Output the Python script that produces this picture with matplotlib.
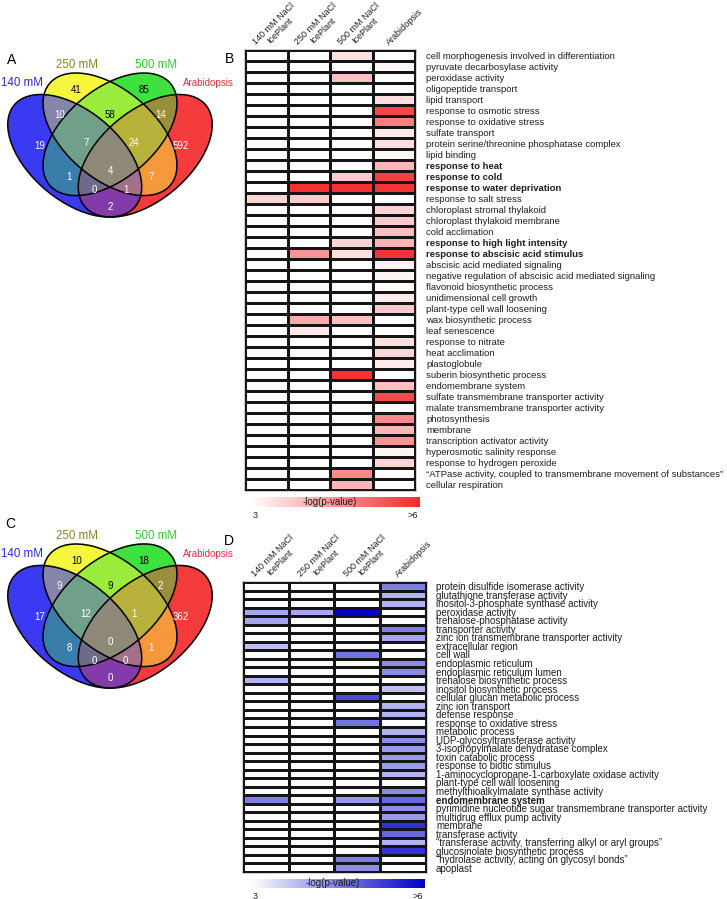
import numpy as np
import matplotlib
matplotlib.use('Agg')
import matplotlib.pyplot as plt
from matplotlib.colors import LinearSegmentedColormap, to_rgb
from matplotlib.patches import Ellipse

plt.rcParams['font.family'] = ['Liberation Sans', 'DejaVu Sans']

W, H = 727, 899

# ------------------------------------------------------------------ data
venn_sets = ['140 mM', '250 mM', '500 mM', 'Arabidopsis']
venn_regions = [(0,), (0, 1), (1,), (1, 2), (2,), (2, 3), (3,),
                (0, 1, 2), (1, 2, 3), (0, 2), (0, 1, 2, 3), (1, 3),
                (0, 2, 3), (0, 1, 3), (0, 3)]
venn_up_counts = [19, 10, 41, 58, 85, 14, 592, 7, 24, 1, 4, 7, 0, 1, 2]
venn_down_counts = [17, 9, 10, 9, 18, 2, 362, 12, 1, 8, 0, 1, 0, 0, 0]

headers = ['140 mM NaCl\nIcePlant', '250 mM NaCl\nIcePlant',
           '500 mM NaCl\nIcePlant', 'Arabidopsis']

b_labels = [
    "cell morphogenesis involved in differentiation",
    "pyruvate decarbosylase activity",
    "peroxidase activity",
    "oligopeptide transport",
    "lipid transport",
    "response to osmotic stress",
    "response to oxidative stress",
    "sulfate transport",
    "protein serine/threonine phosphatase complex",
    "lipid binding",
    "response to heat",
    "response to cold",
    "response to water deprivation",
    "response to salt stress",
    "chloroplast stromal thylakoid",
    "chloroplast thylakoid membrane",
    "cold acclimation",
    "response to high light intensity",
    "response to abscisic acid stimulus",
    "abscisic acid mediated signaling",
    "negative regulation of abscisic acid mediated signaling",
    "flavonoid biosynthetic process",
    "unidimensional cell growth",
    "plant-type cell wall loosening",
    "wax biosynthetic process",
    "leaf senescence",
    "response to nitrate",
    "heat acclimation",
    "plastoglobule",
    "suberin biosynthetic process",
    "endomembrane system",
    "sulfate transmembrane transporter activity",
    "malate transmembrane transporter activity",
    "photosynthesis",
    "membrane",
    "transcription activator activity",
    "hyperosmotic salinity response",
    "response to hydrogen peroxide",
    "\u201cATPase activity, coupled to transmembrane movement of substances\u201d",
    "cellular respiration"]
b_bold = [10, 11, 12, 17, 18]
# -log(p-value); 0 = not significant
b_140 = [0, 0, 0, 0, 0, 0, 0, 0, 0, 0, 0, 0, 0, 3.6, 0, 0, 0, 0, 0, 0,
         0, 0, 0, 0, 0, 0, 0, 0, 0, 0, 0, 0, 0, 0, 0, 0, 0, 0, 0, 0]
b_250 = [0, 0, 0, 0, 0, 0, 0, 0, 0, 0, 0, 0, 5.9, 3.75, 0, 0, 0, 0, 4.5, 0,
         0, 0, 0, 0, 4.2, 3.3, 0, 0, 0, 0, 0, 0, 0, 0, 0, 0, 0, 0, 0, 0]
b_500 = [3.45, 0, 3.9, 0, 0, 0, 0, 0, 0, 0, 0, 3.75, 5.9, 0, 0, 0, 0, 3.6, 3.45, 0,
         0, 0, 0, 0, 3.9, 0, 0, 0, 0, 5.9, 0, 0, 0, 0, 0, 0, 0, 0, 4.65, 4.05]
b_arab = [0, 3.1, 0, 3.05, 3.45, 5.6, 4.8, 3.3, 3.45, 3.1, 4.05, 5.7, 5.85, 0, 3.6, 3.75, 3.9, 4.05, 5.85, 3.2,
          3.15, 3.05, 3.3, 3.75, 0, 0, 3.45, 3.6, 3.3, 0, 3.9, 5.55, 3.05, 4.65, 4.05, 4.5, 3.15, 3.6, 0, 0]

d_labels = [
    "protein disulfide isomerase activity",
    "glutathione transferase activity",
    "inositol-3-phosphate synthase activity",
    "peroxidase activity",
    "trehalose-phosphatase activity",
    "transporter activity",
    "zinc ion transmembrane transporter activity",
    "extracellular region",
    "cell wall",
    "endoplasmic reticulum",
    "endoplasmic reticulum lumen",
    "trehalose biosynthetic process",
    "inositol biosynthetic process",
    "cellular glucan metabolic process",
    "zinc ion transport",
    "defense response",
    "response to oxidative stress",
    "metabolic process",
    "UDP-glycosyltransferase activity",
    "3-isopropylmalate dehydratase complex",
    "toxin catabolic process",
    "response to biotic stimulus",
    "1-aminocyclopropane-1-carboxylate oxidase activity",
    "plant-type cell wall loosening",
    "methylthioalkylmalate synthase activity",
    "endomembrane system",
    "pyrimidine nucleotide sugar transmembrane transporter activity",
    "multidrug efflux pump activity",
    "membrane",
    "transferase activity",
    "\u201ctransferase activity, transferring alkyl or aryl groups\u201d",
    "glucosinolate biosynthetic process",
    "\u201chydrolase activity, acting on glycosyl bonds\u201d",
    "apoplast"]
d_bold = [25]
d_140 = [0, 0, 0, 4.05, 4.05, 0, 0, 3.75, 0, 0, 0, 3.9, 0, 0, 0, 0, 0,
         0, 0, 0, 0, 0, 0, 0, 0, 4.5, 0, 0, 0, 0, 0, 0, 0, 0]
d_250 = [0, 0, 0, 4.05, 0, 0, 0, 0, 0, 0, 0, 0, 0, 0, 0, 0, 0,
         0, 0, 0, 0, 0, 0, 0, 0, 0, 0, 0, 0, 0, 0, 0, 0, 0]
d_500 = [0, 0, 0, 6.0, 0, 0, 0, 0, 4.65, 0, 0, 0, 0, 5.1, 0, 0, 4.65,
         0, 0, 0, 0, 0, 0, 0, 0, 4.2, 0, 0, 0, 0, 0, 0, 4.5, 4.35]
d_arab = [4.5, 3.9, 3.9, 0, 0, 4.5, 4.05, 0, 0, 4.35, 4.35, 0, 3.75, 0, 3.9, 3.9, 0,
          3.9, 4.35, 4.2, 4.2, 4.2, 3.9, 3.05, 4.35, 4.8, 4.35, 4.2, 5.4, 4.8, 3.9, 5.4, 0, 0]

# ------------------------------------------------------------------ style
TXT = '#1e1e1e'
red_cmap = LinearSegmentedColormap.from_list('r', ['#ffffff', '#f42a2d'])
red_cmap.set_under('white')
blue_cmap = LinearSegmentedColormap.from_list('b', ['#ffffff', '#0000c8'])
blue_cmap.set_under('white')

venn_fill = ['#3a3af2', '#f6f63c', '#3ee23e', '#f43c3c']
venn_weight = [1.5, 1.0, 1.0, 1.0]
venn_label_colors = ['#2a2ad0', '#85851f', '#2ccc2c', '#ec2a3e']
dark_regions = [(1,), (1, 2), (2,)]
region_pos = {(0,): (0.200, 0.515), (0, 1): (0.285, 0.660), (1,): (0.357, 0.774),
              (1, 2): (0.500, 0.660), (2,): (0.643, 0.774), (2, 3): (0.715, 0.660),
              (3,): (0.800, 0.515), (0, 1, 2): (0.398, 0.529), (1, 2, 3): (0.602, 0.529),
              (0, 2): (0.326, 0.371), (0, 1, 2, 3): (0.500, 0.397), (1, 3): (0.674, 0.371),
              (0, 2, 3): (0.434, 0.311), (0, 1, 3): (0.566, 0.311), (0, 3): (0.500, 0.234)}
ELL = [(0.35, 0.47, 135), (0.50, 0.57, 135), (0.50, 0.57, 45), (0.65, 0.47, 45)]
EA, EB = 0.35, 0.20

fig = plt.figure(figsize=(W / 100, H / 100), dpi=100)


def px_axes(x0, y0, x1, y1):
    return fig.add_axes([x0 / W, 1 - y1 / H, (x1 - x0) / W, (y1 - y0) / H])


def ftext(x, y, s, **kw):
    fig.text(x / W, 1 - y / H, s, **kw)


def venn(y_off, counts):
    sx, sy = 235.0, 215.0
    top = 73.0 + y_off

    def to_n(x, y):
        return 0.5 + (x - 110.0) / sx, 0.855 - (y - top) / sy

    xi0, xi1, yi0, yi1 = 0, 224, 44 + y_off, 226 + y_off
    ax = px_axes(xi0, yi0, xi1, yi1)
    nx0, ny1 = to_n(xi0, yi0)
    nx1, ny0 = to_n(xi1, yi1)
    ax.set_xlim(nx0, nx1)
    ax.set_ylim(ny0, ny1)
    ax.set_axis_off()
    gx = np.linspace(nx0, nx1, 900)
    gy = np.linspace(ny0, ny1, 740)
    X, Y = np.meshgrid(gx, gy)
    cnt = np.zeros(X.shape)
    rgb = np.zeros(X.shape + (3,))
    for (cx, cy, ang), c, w in zip(ELL, venn_fill, venn_weight):
        t = np.deg2rad(ang)
        dx, dy = X - cx, Y - cy
        u = dx * np.cos(t) + dy * np.sin(t)
        v = -dx * np.sin(t) + dy * np.cos(t)
        m = ((u / EA) ** 2 + (v / EB) ** 2 <= 1).astype(float) * w
        cnt += m
        rgb += m[..., None] * np.array(to_rgb(c))
    img = np.where(cnt[..., None] > 0, rgb / np.maximum(cnt, 1e-9)[..., None], 1.0)
    ax.imshow(img, extent=(nx0, nx1, ny0, ny1), origin='lower', aspect='auto',
              interpolation='bilinear')
    for cx, cy, ang in ELL:
        ax.add_patch(Ellipse((cx, cy), 2 * EA, 2 * EB, angle=ang, fill=False,
                             ec='black', lw=1.1))
    for reg, n in zip(venn_regions, counts):
        x, y = region_pos[reg]
        ax.text(x, y, str(n), ha='center', va='center', fontsize=7,
                color='black' if reg in dark_regions else 'white')
    ftext(1, 83 + y_off, venn_sets[0], ha='left', va='center', fontsize=8.3,
          color=venn_label_colors[0])
    ftext(76.5, 65 + y_off, venn_sets[1], ha='center', va='center', fontsize=8.3,
          color=venn_label_colors[1])
    ftext(156.5, 65 + y_off, venn_sets[2], ha='center', va='center', fontsize=8.3,
          color=venn_label_colors[2])
    ftext(183, 83 + y_off, venn_sets[3], ha='left', va='center', fontsize=7,
          color=venn_label_colors[3])


def heatmap(x0, y0, x1, y1, labels, cols, bold, cmap, fs, pad_px):
    ax = px_axes(x0, y0, x1, y1)
    data = np.array(cols, dtype=float).T
    n = len(labels)
    ax.pcolormesh(np.arange(len(cols) + 1), np.arange(n + 1), data, cmap=cmap,
                  vmin=3, vmax=6, edgecolors='#151515', linewidth=1.0)
    ax.set_xlim(0, len(cols))
    ax.set_ylim(n, 0)
    ax.set_xticks([])
    ax.yaxis.tick_right()
    ax.set_yticks(np.arange(n) + 0.5)
    ax.set_yticklabels(labels, fontsize=fs, color=TXT)
    ax.tick_params(axis='y', length=0, pad=pad_px * 0.72)
    for i, t in enumerate(ax.get_yticklabels()):
        if i in bold:
            t.set_fontweight('bold')
    for s in ax.spines.values():
        s.set_linewidth(1.0)
        s.set_color('#151515')
    for j, h in enumerate(headers):
        ax.annotate(h, xy=(j + 0.5, 0), xycoords='data', xytext=(10.5, 23),
                    textcoords='offset pixels', rotation=45, rotation_mode='anchor',
                    ha='center', va='center', fontsize=6.5, color=TXT,
                    multialignment='center', linespacing=1.1, annotation_clip=False)
    return ax


def cbar(x0, y0, x1, y1, cmap):
    ax = px_axes(x0, y0, x1, y1)
    grad = np.linspace(3, 6, 300)[None, :]
    ax.imshow(grad, cmap=cmap, vmin=3, vmax=6, aspect='auto', extent=(3, 6, 0, 1))
    ax.set_xlim(3, 6)
    ax.set_axis_off()
    ax.text(0.47, 0.5, '-log(p-value)', transform=ax.transAxes, ha='center',
            va='center', fontsize=7, color=TXT)
    ax.text(0.03, -0.9, '3', transform=ax.transAxes, ha='center', va='center',
            fontsize=6.5, color=TXT)
    ax.text(0.96, -0.9, '>6', transform=ax.transAxes, ha='center', va='center',
            fontsize=6.5, color=TXT)


# Panel A / C
venn(0, venn_up_counts)
venn(471, venn_down_counts)

# Panel B / D
heatmap(245, 50, 415, 490, b_labels, [b_140, b_250, b_500, b_arab], b_bold,
        red_cmap, 6.8, 11)
cbar(250, 497, 420, 507, red_cmap)
heatmap(243, 582, 426, 872, d_labels, [d_140, d_250, d_500, d_arab], d_bold,
        blue_cmap, 7.0, 10)
cbar(250, 879, 425, 888, blue_cmap)

# panel letters
for s, x, y in [('A', 12, 60), ('B', 229, 59), ('C', 10, 524), ('D', 229, 541)]:
    ftext(x, y, s, ha='center', va='center', fontsize=10, color='black')

fig.savefig('out.png', dpi=100)
